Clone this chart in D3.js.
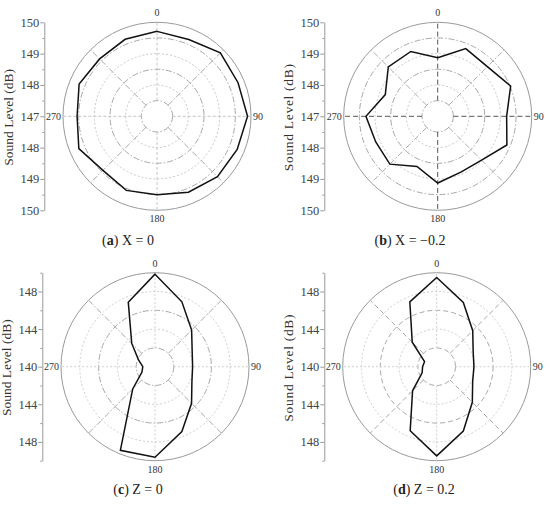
<!DOCTYPE html>
<html><head><meta charset="utf-8">
<script src="https://cdn.jsdelivr.net/npm/d3@7"></script>
<style>body{margin:0;background:#fff}svg{display:block}</style>
</head><body>
<svg id="chart" width="550" height="507"></svg>
<script>
// ---- data ----
const angles = [0,22.5,45,67.5,90,112.5,135,157.5,180,202.5,225,247.5,270,292.5,315,337.5];
const levelsA = [149.71,149.65,149.86,149.80,149.89,149.77,149.73,149.62,149.50,149.56,149.44,149.70,149.55,149.69,149.59,149.66];
const levelsB = [148.87,149.34,149.24,149.52,149.20,149.39,148.98,148.93,149.13,148.73,149.16,149.14,149.29,148.81,149.23,149.24];
const levelsC = [149.84,147.47,145.51,144.28,144.00,144.25,145.50,147.47,149.63,149.63,143.35,141.50,141.30,141.90,143.50,147.43];
const levelsD = [149.49,147.40,145.42,144.20,143.96,144.14,145.36,147.40,149.49,147.37,143.63,141.68,141.50,141.40,143.68,147.47];
const angleLabels = [0, 90, 180, 270];
const spokeAngles = [0,45,90,135,180,225,270,315];
const ringsTop = [147.5,148,148.5,149,149.5,150];
const ringsBottom = [142,144,146,148,150];
const tickLabelsTop = [150,149,148,147,148,149,150];
const tickLabelsBottom = [148,144,140,144,148];
const minorTop = [149.5,148.5,147.5,147.5,148.5,149.5];
const minorBottom = [150,146,142,142,146,150];
const captionLetters = ["a","b","c","d"];
const captionTexts = [" X = 0"," X = \u22120.2"," Z = 0"," Z = 0.2"];
const yTitle = "Sound Level (dB)";

// ---- layout ----
const svg = d3.select("#chart");
const serif = "'Liberation Serif','Times New Roman',serif";
const R = 94;
const panels = [
  {cx:157, cy:116.3, ax:44.3, min:147, max:150, data:levelsA, rings:ringsTop, ticks:tickLabelsTop, minor:minorTop, style:"a", capX:128, capY:245, ls:0},
  {cx:437.7, cy:116.3, ax:324.3, min:147, max:150, data:levelsB, rings:ringsTop, ticks:tickLabelsTop, minor:minorTop, style:"b", capX:410, capY:245, ls:0.7},
  {cx:155, cy:366.7, ax:42.3, min:140, max:150, data:levelsC, rings:ringsBottom, ticks:tickLabelsBottom, minor:minorBottom, style:"c", capX:138, capY:494, ls:0},
  {cx:436.7, cy:366.7, ax:324.3, min:140, max:150, data:levelsD, rings:ringsBottom, ticks:tickLabelsBottom, minor:minorBottom, style:"d", capX:424, capY:494, ls:0.7}
];

const gridStyles = {
  a:{axis:{stroke:"#c4c4c4", dash:"3,2"}, diag:{stroke:"#a8a8a8", dash:"6,2,1.5,2"}, ringMajor:{stroke:"#a8a8a8", dash:"6,2,1.5,2"}, ringMinor:{stroke:"#c8c8c8", dash:"2,2"}},
  b:{axis:{stroke:"#555", dash:"5,3"}, diag:{stroke:"#b0b0b0", dash:"6,2,1.5,2"}, ringMajor:{stroke:"#a8a8a8", dash:"6,2,1.5,2"}, ringMinor:{stroke:"#c8c8c8", dash:"2,2"}},
  c:{axis:{stroke:"#cfcfcf", dash:"2,2"}, diag:{stroke:"#a8a8a8", dash:"6,2,1.5,2"}, ringMajor:{stroke:"#a8a8a8", dash:"6,2,1.5,2"}, ringMinor:{stroke:"#cfcfcf", dash:"2,2"}},
  d:{axis:{stroke:"#cfcfcf", dash:"2,2"}, diag:{stroke:"#a8a8a8", dash:"5,3"}, ringMajor:{stroke:"#a8a8a8", dash:"5,3"}, ringMinor:{stroke:"#cfcfcf", dash:"2,2"}}
};

panels.forEach((p, i) => {
  const st = gridStyles[p.style];
  const g = svg.append("g").attr("transform", `translate(${p.cx},${p.cy})`);
  const r = d3.scaleLinear().domain([p.min, p.max]).range([0, R]);
  const a = d3.scaleLinear().domain([0, 360]).range([0, 2*Math.PI]);
  const r0 = r(p.rings[0]);

  // rings
  p.rings.forEach((v, k) => {
    const last = k === p.rings.length - 1;
    const s = last ? null : (k % 2 === 0 ? st.ringMajor : st.ringMinor);
    g.append("circle").attr("r", r(v)).attr("fill", "none")
      .attr("stroke", last ? "#9a9a9a" : s.stroke)
      .attr("stroke-width", 1)
      .attr("stroke-dasharray", last ? null : s.dash);
  });

  // spokes
  spokeAngles.forEach(deg => {
    const s = deg % 90 === 0 ? st.axis : st.diag;
    const t = a(deg);
    g.append("line")
      .attr("x1", r0*Math.sin(t)).attr("y1", -r0*Math.cos(t))
      .attr("x2", R*Math.sin(t)).attr("y2", -R*Math.cos(t))
      .attr("stroke", s.stroke).attr("stroke-width", 1)
      .attr("stroke-dasharray", s.dash);
  });

  // data line
  const line = d3.lineRadial().angle(d => a(d[0])).radius(d => r(d[1])).curve(d3.curveLinearClosed);
  g.append("path").datum(angles.map((ang, k) => [ang, p.data[k]]))
    .attr("d", line).attr("fill", "none").attr("stroke", "#111").attr("stroke-width", 1.5)
    .attr("stroke-linejoin", "miter");

  // angle labels
  angleLabels.forEach(deg => {
    const txt = g.append("text").text(deg).attr("font-family", serif).attr("font-size", 10).attr("fill", "#333");
    if (deg === 0) txt.attr("x", 0).attr("y", -R - 6).attr("text-anchor", "middle");
    else if (deg === 180) txt.attr("x", 0).attr("y", R + 12).attr("text-anchor", "middle");
    else if (deg === 90) txt.attr("x", R + 2).attr("y", 3.5).attr("text-anchor", "start");
    else txt.attr("x", -R - 2).attr("y", 3.5).attr("text-anchor", "end");
  });

  // y axis (offset from centre, labelled with level)
  const span = p.max - p.min;
  const y = d3.scaleLinear().domain([-span, span]).range([p.cy + R, p.cy - R]);
  const half = (p.ticks.length - 1) / 2;
  const majorVals = p.ticks.map((v, k) => (k < half ? 1 : -1) * (v - p.min));
  const minorVals = p.minor.map((v, k) => (k < p.minor.length/2 ? 1 : -1) * (v - p.min));
  const axMajor = d3.axisLeft(y).tickValues(majorVals).tickSize(4).tickSizeOuter(0)
    .tickFormat((d, k) => p.ticks[k]);
  const axMinor = d3.axisLeft(y).tickValues(minorVals).tickSize(2).tickFormat("");
  const gA = svg.append("g").attr("transform", `translate(${p.ax},0)`).call(axMajor);
  const gM = svg.append("g").attr("transform", `translate(${p.ax},0)`).call(axMinor);
  gM.select(".domain").remove();
  [gA, gM].forEach(gg => {
    gg.selectAll("line").attr("stroke", "#999");
    gg.selectAll(".domain").attr("stroke", "#999");
  });
  gA.selectAll("text").attr("font-family", serif).attr("font-size", 12.5).attr("fill", "#444").attr("x", -5);

  // y title
  svg.append("text").text(yTitle)
    .attr("transform", `translate(${p.ax - 31},${p.cy + 1}) rotate(-90)`)
    .attr("text-anchor", "middle").attr("font-family", serif).attr("font-size", 13.5)
    .attr("letter-spacing", p.ls).attr("fill", "#333");

  // caption
  const cap = svg.append("text").attr("x", p.capX).attr("y", p.capY).attr("text-anchor", "middle")
    .attr("font-family", serif).attr("font-size", 14).attr("fill", "#222");
  cap.append("tspan").text("(");
  cap.append("tspan").attr("font-weight", "bold").text(captionLetters[i]);
  cap.append("tspan").text(")" + captionTexts[i]);
});
</script>
</body></html>
